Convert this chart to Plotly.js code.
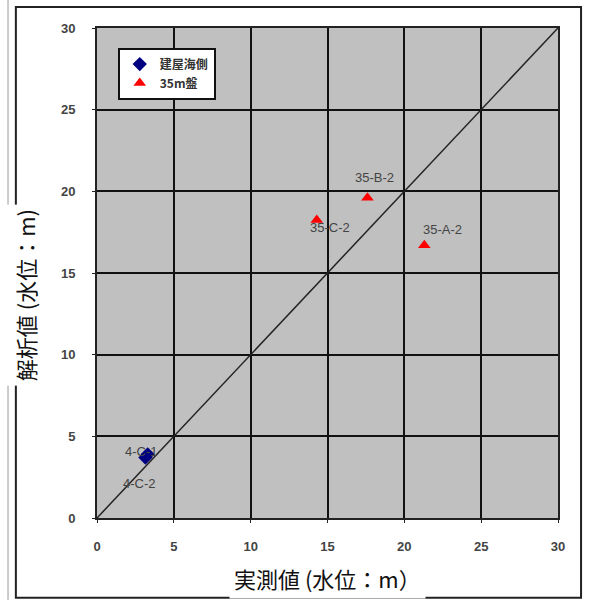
<!DOCTYPE html>
<html><head><meta charset="utf-8">
<script src="https://cdn.plot.ly/plotly-3.0.1.min.js"></script>
<style>html,body{margin:0;padding:0;background:#fff}#c{width:589px;height:600px}</style>
</head><body><div id="c"></div>
<script>
const seaX = [3.3, 3.15];
const seaY = [3.9, 3.7];
const seaLabels = ['4-C-1', '4-C-2'];
const m35X = [17.6, 14.3, 21.3];
const m35Y = [19.6, 18.25, 16.7];
const m35Labels = ['35-B-2', '35-C-2', '35-A-2'];
const seriesNames = ['建屋海側', '35m盤'];
const lineX = [0, 30];
const lineY = [0, 30];
const tickVals = [0, 5, 10, 15, 20, 25, 30];

const labelOffsets = {
  '35-B-2': [7, 20], '35-C-2': [13, -8], '35-A-2': [18, 16],
  '4-C-1': [-6, 3], '4-C-2': [-6, -26]
};
const annotations = [];
function addLabels(xs, ys, labels) {
  labels.forEach((t, i) => {
    const o = labelOffsets[t];
    annotations.push({x: xs[i], y: ys[i], xref: 'x', yref: 'y', text: t, showarrow: false,
      xshift: o[0], yshift: o[1], font: {family: 'Liberation Sans, Arial', size: 13, color: '#444'}});
  });
}
addLabels(m35X, m35Y, m35Labels);
addLabels(seaX, seaY, seaLabels);
annotations.push({xref: 'paper', yref: 'paper', x: -0.156, y: 0.455, xanchor: 'center', yanchor: 'middle',
  text: '解析値 (水位：m)', textangle: -90,
  showarrow: false, bgcolor: '#fff', borderpad: 4,
  font: {family: 'Noto Sans CJK JP', size: 22, color: '#111'}});
annotations.push({xref: 'paper', yref: 'paper', x: 0.499, y: -0.122, xanchor: 'center', yanchor: 'middle',
  text: '実測値 (水位：m）',
  showarrow: false, bgcolor: '#fff', borderpad: 4,
  font: {family: 'Noto Sans CJK JP', size: 22, color: '#111'}});

const data = [
  {x: lineX, y: lineY, mode: 'lines', line: {color: '#222', width: 1.5}, showlegend: false, hoverinfo: 'skip'},
  {x: seaX, y: seaY, mode: 'markers', name: seriesNames[0], marker: {symbol: 'diamond', color: '#000080', size: 11}},
  {x: m35X, y: m35Y, mode: 'markers', name: seriesNames[1], marker: {symbol: 'triangle-up', color: '#ff0000', size: 11}}
];
const axisCommon = {range: [0, 30], tickvals: tickVals, showgrid: true, gridcolor: '#111', gridwidth: 2,
  zeroline: false, showline: true, linecolor: '#222', linewidth: 2, mirror: true, ticks: 'outside', ticklen: 3,
  tickcolor: '#222', tickfont: {family: 'Liberation Sans, Arial', size: 13, color: '#444', weight: 'bold'}, fixedrange: true};
const layout = {
  width: 589, height: 600,
  margin: {l: 97, r: 31, t: 28, b: 82},
  paper_bgcolor: '#fff', plot_bgcolor: '#c0c0c0',
  xaxis: Object.assign({}, axisCommon, {ticklabelstandoff: 12}),
  yaxis: Object.assign({}, axisCommon, {ticklabelstandoff: 14}),
  showlegend: true,
  legend: {x: 0.045, y: 0.96, xanchor: 'left', yanchor: 'top', bgcolor: '#fff', bordercolor: '#111', borderwidth: 2,
    font: {family: 'Noto Sans CJK JP', size: 12, color: '#333', weight: 'bold'}, itemwidth: 30, tracegroupgap: 0},
  annotations: annotations,
  shapes: [
    {type: 'rect', xref: 'paper', yref: 'paper', x0: -0.176, x1: 1.05, y0: -0.163, y1: 1.043,
      line: {color: '#222', width: 2}, layer: 'below'},
    {type: 'line', xref: 'paper', yref: 'paper', x0: -0.193, x1: -0.193, y0: -0.17, y1: 1.06,
      line: {color: '#999', width: 1}, layer: 'below'}
  ]
};
Plotly.newPlot('c', data, layout, {displayModeBar: false, staticPlot: true});
</script></body></html>
